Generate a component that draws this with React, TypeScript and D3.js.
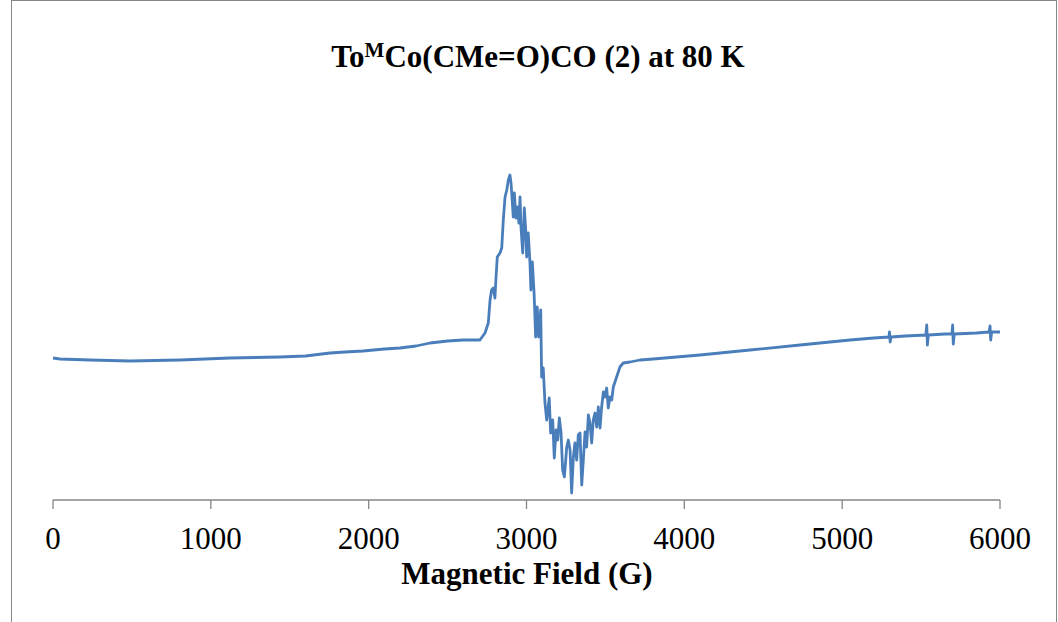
import React from "react";
import * as d3 from "d3";

// Magnetic field (G)
const field: number[] = [
  0, 44, 234, 488, 805, 1121, 1438, 1600, 1755, 1850, 1964, 2100, 2199, 2300, 2389, 2500, 2598, 2705,
  2737, 2758, 2769, 2779, 2790, 2800, 2807, 2815, 2832, 2843, 2853, 2864,
  2875, 2885, 2895, 2902, 2906, 2916, 2923, 2933, 2942, 2952, 2959, 2965,
  2976, 2986, 2995, 3001, 3011, 3022, 3028, 3037, 3048, 3058, 3068, 3077,
  3090, 3096, 3106, 3117, 3128, 3144, 3153, 3166, 3176, 3187, 3198, 3208,
  3219, 3229, 3240, 3255, 3265, 3276, 3286, 3297, 3307, 3318, 3328, 3339,
  3350, 3360, 3371, 3381, 3392, 3402, 3413, 3423, 3434, 3445, 3455, 3466,
  3476, 3487, 3497, 3508, 3518, 3529, 3540, 3550, 3571, 3592, 3613, 3656,
  3719, 3803, 4099, 4416, 4733, 5050, 5200, 5296, 5300, 5304, 5310, 5400,
  5530, 5536, 5540, 5546, 5650, 5695, 5700, 5704, 5710, 5850, 5930, 5937,
  5941, 5947, 6000,
];

// EPR signal (arbitrary units)
const intensity: number[] = [
  0, -1, -2, -3, -2, 0, 1, 2, 5, 6, 7, 9, 10, 12, 15, 17, 18, 18,
  25, 35, 58, 68, 70, 60, 81, 101, 105, 110, 138, 161,
  168, 178, 183, 175, 166, 141, 165, 140, 151, 135, 161, 131,
  105, 150, 128, 101, 125, 95, 68, 96, 65, 21, 51, 21,
  48, -19, -10, -45, -62, -40, -75, -62, -100, -72, -82, -60,
  -75, -112, -119, -89, -82, -92, -135, -99, -85, -102, -77, -75,
  -127, -102, -74, -89, -57, -65, -85, -62, -55, -69, -49, -70,
  -49, -34, -39, -30, -50, -39, -42, -29, -19, -9, -5, -4,
  -2, -1, 3, 8, 13, 18, 20, 21, 26, 16, 21, 22,
  23, 33, 13, 23, 24, 24, 33, 14, 24, 25, 26, 32,
  18, 26, 26,
];

const xTicks: number[] = [0, 1000, 2000, 3000, 4000, 5000, 6000];

const title = "To";
const titleSup = "M";
const titleRest = "Co(CMe=O)CO (2) at 80 K";
const xTitle = "Magnetic Field (G)";

export default function App() {
  const W = 1058;
  const H = 622;
  const x = d3.scaleLinear().domain([0, 6000]).range([53, 1000]);
  const y = d3.scaleLinear().domain([-142, 268]).range([500, 90]);
  const pts: [number, number][] = field.map((f, i) => [f, intensity[i]]);
  const line = d3
    .line<[number, number]>()
    .x((d) => x(d[0]))
    .y((d) => y(d[1]));
  const axisColor = "#868686";
  const font = "'Liberation Serif', 'Times New Roman', serif";
  return (
    <svg
      width={W}
      height={H}
      style={{ position: "absolute", left: 0, top: 0, background: "#fff" }}
      fontFamily={font}
    >
      <rect x={11.5} y={0.5} width={1045} height={660} fill="#fff" stroke={axisColor} strokeWidth={1} />
      <text x={538} y={67} textAnchor="middle" fontWeight="bold" fontSize={31} fill="#000">
        {title}
        <tspan fontSize={21} dy={-10}>{titleSup}</tspan>
        <tspan dy={10}>{titleRest}</tspan>
      </text>
      <line x1={x(0)} x2={x(6000)} y1={500} y2={500} stroke={axisColor} strokeWidth={1.3} />
      {xTicks.map((t) => (
        <g key={t}>
          <line x1={x(t)} x2={x(t)} y1={500} y2={509} stroke={axisColor} strokeWidth={1.3} />
          <text x={x(t)} y={549} textAnchor="middle" fontSize={31} fill="#000">
            {t}
          </text>
        </g>
      ))}
      <text x={527} y={584} textAnchor="middle" fontWeight="bold" fontSize={31} fill="#000">
        {xTitle}
      </text>
      <path d={line(pts) || ""} fill="none" stroke="#4a7ebb" strokeWidth={2.8} strokeLinejoin="round" />
    </svg>
  );
}
